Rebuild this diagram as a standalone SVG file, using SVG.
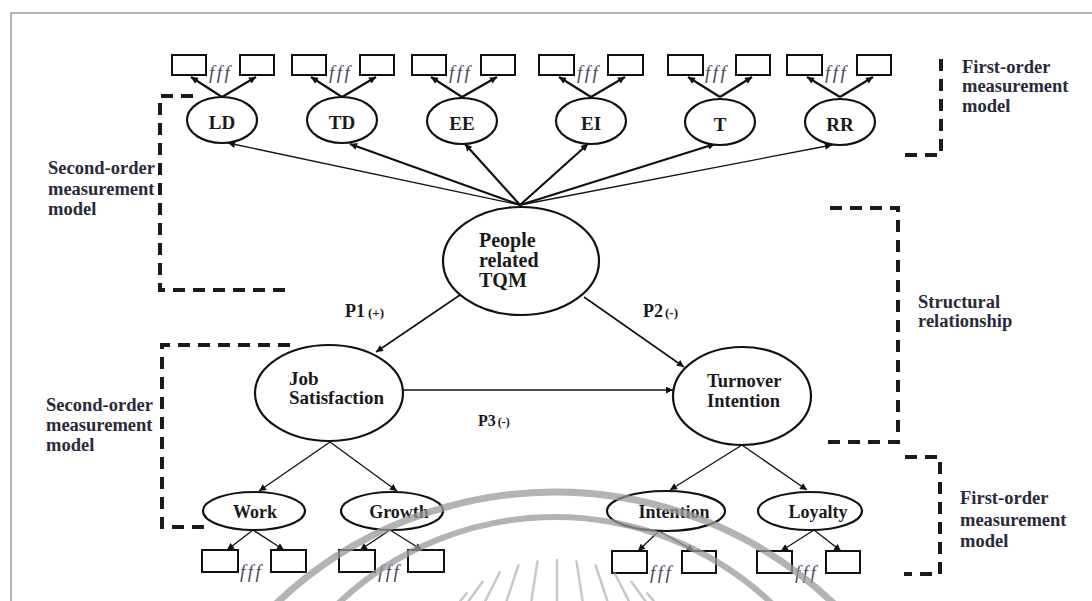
<svg xmlns="http://www.w3.org/2000/svg" width="1092" height="601" viewBox="0 0 1092 601">
<defs>
<marker id="ah" viewBox="0 0 10 10" refX="10" refY="5" markerWidth="9" markerHeight="7" markerUnits="userSpaceOnUse" orient="auto">
<path d="M0,0 L10,5 L0,10 z" fill="#111"/>
</marker>
<style>
.box{fill:#fff;stroke:#111;stroke-width:2}
.ell{fill:#fff;stroke:#111;stroke-width:2.2}
.lbl{font-family:"Liberation Serif",serif;font-weight:bold;fill:#1a1a1a}
.fff{font-family:"Liberation Serif",serif;font-style:italic;font-size:19px;fill:#4a4a5a;letter-spacing:2.5px}
.dash{fill:none;stroke:#1a1a1a;stroke-width:4;stroke-dasharray:12 8}
.side{font-family:"Liberation Serif",serif;font-weight:bold;font-size:18.5px;fill:#2a2a3a}
.thick{stroke:#111;stroke-width:2.2;fill:none;marker-end:url(#ah)}
.thin{stroke:#111;stroke-width:1.3;fill:none;marker-end:url(#ah)}
.mid{stroke:#111;stroke-width:1.6;fill:none;marker-end:url(#ah)}
.wm{fill:none;stroke:#9a9a9a;stroke-opacity:0.75}
</style>
</defs>
<rect x="0" y="0" width="1092" height="601" fill="#fff"/>
<g id="frame" stroke="#9a9a9a" stroke-width="1.5" fill="none">
<path d="M11,601 V13 H1092"/>
</g>

<g id="connectors">
<line class="thick" x1="222" y1="97" x2="191" y2="77"/><line class="thick" x1="222" y1="97" x2="256" y2="77"/>
<line class="thick" x1="342" y1="97" x2="311" y2="77"/><line class="thick" x1="342" y1="97" x2="376" y2="77"/>
<line class="thick" x1="462" y1="97" x2="431" y2="77"/><line class="thick" x1="462" y1="97" x2="497" y2="77"/>
<line class="thick" x1="591" y1="97" x2="559" y2="77"/><line class="thick" x1="591" y1="97" x2="625" y2="77"/>
<line class="thick" x1="720" y1="97" x2="688" y2="77"/><line class="thick" x1="720" y1="97" x2="752" y2="77"/>
<line class="thick" x1="840" y1="97" x2="807" y2="77"/><line class="thick" x1="840" y1="97" x2="873" y2="77"/>
<line class="thin" x1="520" y1="205" x2="228" y2="143"/>
<line class="thick" x1="520" y1="205" x2="350" y2="144"/>
<line class="thick" x1="520" y1="205" x2="465" y2="144"/>
<line class="thick" x1="520" y1="205" x2="588" y2="144"/>
<line class="thick" x1="520" y1="205" x2="715" y2="144"/>
<line class="thin" x1="520" y1="205" x2="832" y2="145"/>
<line class="mid" x1="460" y1="295" x2="376" y2="352"/>
<line class="mid" x1="584" y1="297" x2="684" y2="367"/>
<line class="mid" x1="403" y1="390" x2="673" y2="390"/>
<line class="thin" x1="330" y1="442" x2="259" y2="491"/>
<line class="thin" x1="330" y1="442" x2="397" y2="491"/>
<line class="thin" x1="742" y1="445" x2="670" y2="490"/>
<line class="thin" x1="742" y1="445" x2="807" y2="490"/>
<line class="thin" x1="253" y1="530" x2="227" y2="550"/><line class="thin" x1="253" y1="530" x2="284" y2="550"/>
<line class="thin" x1="390" y1="530" x2="360" y2="550"/><line class="thin" x1="390" y1="530" x2="422" y2="550"/>
<line class="thin" x1="659" y1="531" x2="638" y2="551"/><line class="thin" x1="659" y1="531" x2="694" y2="551"/>
<line class="thin" x1="814" y1="530" x2="781" y2="551"/><line class="thin" x1="814" y1="530" x2="841" y2="551"/>
</g>

<g id="LD"><rect class="box" x="172" y="55" width="34" height="20"/><rect class="box" x="240" y="55" width="34" height="20"/><text class="fff" x="209" y="79">fff</text><ellipse class="ell" cx="222" cy="120" rx="35" ry="23"/><text class="lbl" x="222" y="129" font-size="19" text-anchor="middle">LD</text></g>
<g id="TD"><rect class="box" x="292" y="55" width="34" height="20"/><rect class="box" x="360" y="55" width="34" height="20"/><text class="fff" x="329" y="79">fff</text><ellipse class="ell" cx="342" cy="120" rx="35" ry="23"/><text class="lbl" x="342" y="129" font-size="19" text-anchor="middle">TD</text></g>
<g id="EE"><rect class="box" x="412" y="55" width="34" height="20"/><rect class="box" x="481" y="55" width="34" height="20"/><text class="fff" x="449" y="79">fff</text><ellipse class="ell" cx="462" cy="121" rx="35" ry="23"/><text class="lbl" x="462" y="130" font-size="19" text-anchor="middle">EE</text></g>
<g id="EI"><rect class="box" x="539" y="55" width="35" height="20"/><rect class="box" x="608" y="55" width="35" height="20"/><text class="fff" x="577" y="79">fff</text><ellipse class="ell" cx="591" cy="121" rx="35" ry="23"/><text class="lbl" x="591" y="130" font-size="19" text-anchor="middle">EI</text></g>
<g id="T"><rect class="box" x="668" y="55" width="35" height="20"/><rect class="box" x="736" y="55" width="34" height="20"/><text class="fff" x="705" y="79">fff</text><ellipse class="ell" cx="720" cy="122" rx="35" ry="23"/><text class="lbl" x="720" y="131" font-size="19" text-anchor="middle">T</text></g>
<g id="RR"><rect class="box" x="787" y="55" width="35" height="20"/><rect class="box" x="857" y="55" width="34" height="20"/><text class="fff" x="825" y="79">fff</text><ellipse class="ell" cx="840" cy="122" rx="35" ry="23"/><text class="lbl" x="840" y="131" font-size="19" text-anchor="middle">RR</text></g>

<g id="TQM"><ellipse class="ell" cx="521" cy="261" rx="78" ry="54"/><text class="lbl" font-size="20"><tspan x="479" y="247">People</tspan><tspan x="479" y="267">related</tspan><tspan x="479" y="287">TQM</tspan></text></g>
<g id="JobSatisfaction"><ellipse class="ell" cx="329" cy="393" rx="74" ry="48"/><text class="lbl" font-size="19"><tspan x="289" y="385">Job</tspan><tspan x="289" y="404">Satisfaction</tspan></text></g>
<g id="TurnoverIntention"><ellipse class="ell" cx="742" cy="396" rx="69" ry="49"/><text class="lbl" font-size="18.5"><tspan x="707" y="387">Turnover</tspan><tspan x="707" y="407">Intention</tspan></text></g>

<g id="Work"><ellipse class="ell" cx="254" cy="511" rx="51" ry="19"/><text class="lbl" x="255" y="518" font-size="18" text-anchor="middle" fill="#333">Work</text><rect class="box" x="202" y="550" width="36" height="22"/><rect class="box" x="271" y="550" width="35" height="22"/><text class="fff" x="240" y="578">fff</text></g>
<g id="Growth"><ellipse class="ell" cx="392" cy="511" rx="51" ry="19"/><text class="lbl" x="399" y="518" font-size="18" text-anchor="middle">Growth</text><rect class="box" x="339" y="550" width="36" height="22"/><rect class="box" x="408" y="550" width="36" height="22"/><text class="fff" x="378" y="578">fff</text></g>
<g id="Intention"><ellipse class="ell" cx="666" cy="511" rx="59" ry="20"/><text class="lbl" x="674" y="518" font-size="18" text-anchor="middle">Intention</text><rect class="box" x="612" y="551" width="35" height="22"/><rect class="box" x="682" y="551" width="34" height="22"/><text class="fff" x="650" y="579">fff</text></g>
<g id="Loyalty"><ellipse class="ell" cx="810" cy="511" rx="52" ry="19"/><text class="lbl" x="818" y="518" font-size="18" text-anchor="middle">Loyalty</text><rect class="box" x="757" y="551" width="35" height="22"/><rect class="box" x="826" y="551" width="34" height="22"/><text class="fff" x="795" y="579">fff</text></g>

<g id="pathLabels" class="lbl">
<text x="345" y="317" font-size="18">P1<tspan font-size="13" dx="3">(+)</tspan></text>
<text x="643" y="317" font-size="18">P2<tspan font-size="13" dx="2">(-)</tspan></text>
<text x="478" y="426" font-size="16">P3<tspan font-size="12" dx="2">(-)</tspan></text>
</g>

<g id="brackets">
<path class="dash" d="M905,155 H941 V58"/>
<path class="dash" d="M193,96 H160 V290 H293"/>
<path class="dash" d="M830,208 H898 V442 H828"/>
<path class="dash" d="M290,345 H162 V527 H204"/>
<path class="dash" d="M905,457 H940 V574 H904"/>
</g>
<g id="bracketLabels" class="side">
<text><tspan x="962" y="73">First-order</tspan><tspan x="962" y="92">measurement</tspan><tspan x="962" y="112">model</tspan></text>
<text><tspan x="48" y="174">Second-order</tspan><tspan x="48" y="195">measurement</tspan><tspan x="48" y="215">model</tspan></text>
<text><tspan x="918" y="308">Structural</tspan><tspan x="918" y="327">relationship</tspan></text>
<text><tspan x="46" y="411">Second-order</tspan><tspan x="46" y="431">measurement</tspan><tspan x="46" y="451">model</tspan></text>
<text><tspan x="960" y="504">First-order</tspan><tspan x="960" y="526">measurement</tspan><tspan x="960" y="547">model</tspan></text>
</g>

<g id="watermark" class="wm">
<circle cx="555" cy="896" r="404" stroke-width="7"/>
<circle cx="555" cy="832" r="315" stroke-width="6"/>
<g stroke-width="2.5" stroke-linecap="round" stroke-opacity="0.55">
<line x1="557" y1="560" x2="557" y2="610"/>
<line x1="537.5" y1="561.4" x2="530" y2="610"/>
<line x1="518.3" y1="565.5" x2="503" y2="612"/>
<line x1="499.8" y1="572.3" x2="478" y2="615"/>
<line x1="482.6" y1="581.7" x2="455" y2="620"/>
<line x1="466.8" y1="593.3" x2="440" y2="625"/>
<line x1="576.5" y1="561.4" x2="584" y2="610"/>
<line x1="595.7" y1="565.5" x2="611" y2="612"/>
<line x1="614.2" y1="572.3" x2="636" y2="615"/>
<line x1="631.4" y1="581.7" x2="659" y2="620"/>
<line x1="647.2" y1="593.3" x2="674" y2="625"/>
</g>
</g>
</svg>
